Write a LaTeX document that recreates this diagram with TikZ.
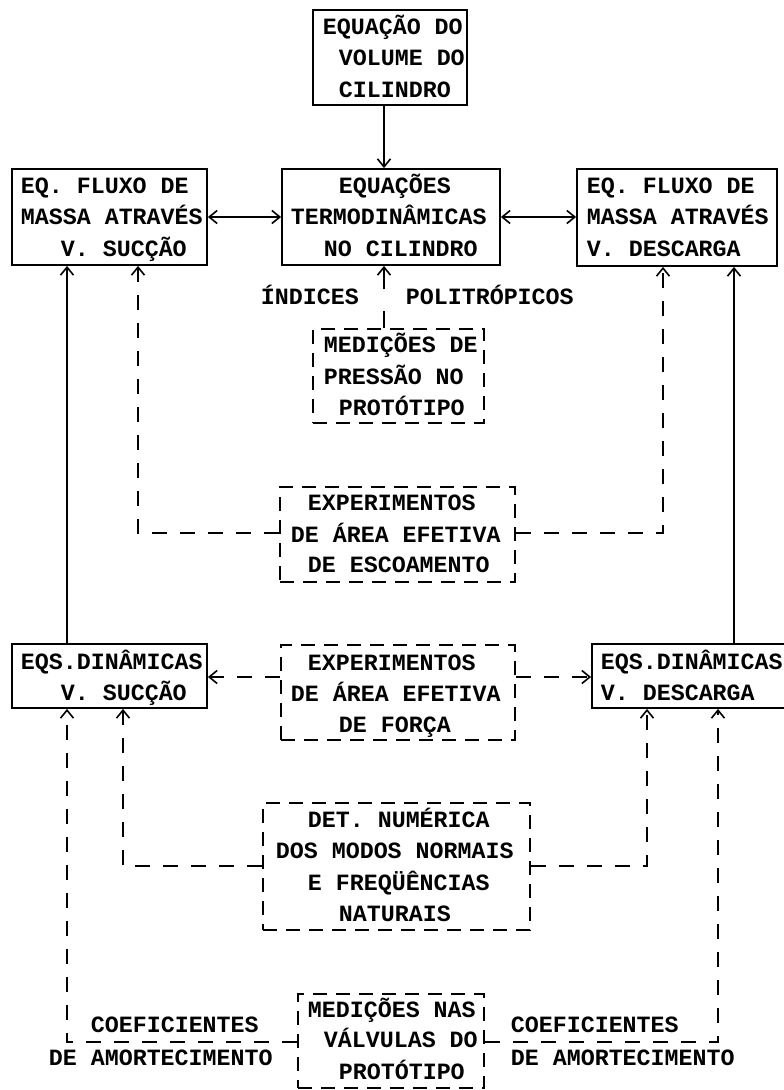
\documentclass[tikz,border=0pt]{standalone}
\usepackage{fontspec}
\setmainfont{Liberation Mono}
\usetikzlibrary{arrows.meta}
\begin{document}
\begin{tikzpicture}[x=1pt,y=-1pt, line width=1.8pt,
  box/.style={draw, line width=1.8pt, inner sep=0pt},
  dbox/.style={box, dash pattern=on 14pt off 9pt},
  txt/.style={anchor=base west, inner sep=0pt, font=\fontsize{23.3}{28}\selectfont\bfseries},
  arr/.style={-{Straight Barb[length=8pt,width=13pt,line width=1.6pt]}},
  darr/.style={{Straight Barb[length=8pt,width=13pt,line width=1.6pt]}-{Straight Barb[length=8pt,width=13pt,line width=1.6pt]}},
  dl/.style={arr, dash pattern=on 15pt off 13pt}]
\useasboundingbox (0,0) rectangle (784,1090);
\clip (0,0) rectangle (784,1090);

% boxes
\node[box,  minimum width=154pt, minimum height=95pt]  (top)   at (390,57.5)   {};
\node[box,  minimum width=195pt, minimum height=96pt]  (fluxS) at (109.5,217)  {};
\node[box,  minimum width=218pt, minimum height=96pt]  (cyl)   at (391,217)    {};
\node[box,  minimum width=200pt, minimum height=97pt]  (fluxD) at (677,217.5)  {};
\node[dbox, minimum width=171pt, minimum height=94pt]  (medP)  at (398.5,376)  {};
\node[dbox, minimum width=235pt, minimum height=95pt]  (esc)   at (397.5,534.5){};
\node[box,  minimum width=195pt, minimum height=64pt]  (dinS)  at (109.5,676)  {};
\node[dbox, minimum width=234pt, minimum height=95pt]  (forca) at (398,692.5)  {};
\node[box,  minimum width=198pt, minimum height=64pt]  (dinD)  at (691,676)    {};
\node[dbox, minimum width=267pt, minimum height=127pt] (det)   at (396.5,866.5){};
\node[dbox, minimum width=186pt, minimum height=94pt]  (medN)  at (391,1041)   {};

% box texts
\node[txt] (top1) at (322,34)  {EQUAÇÃO DO};
\node[txt] (top2) at (338,65)  {VOLUME DO};
\node[txt] (top3) at (338,97)  {CILINDRO};

\node[txt] (fs1) at (20,193) {EQ. FLUXO DE};
\node[txt] (fs2) at (20,224) {MASSA ATRAVÉS};
\node[txt] (fs3) at (60,256) {V. SUCÇÃO};

\node[txt] (cy1) at (338,193) {EQUAÇÕES};
\node[txt] (cy2) at (290,224) {TERMODINÂMICAS};
\node[txt] (cy3) at (323,256) {NO CILINDRO};

\node[txt] (fd1) at (586,193) {EQ. FLUXO DE};
\node[txt] (fd2) at (586,224) {MASSA ATRAVÉS};
\node[txt] (fd3) at (586,256) {V. DESCARGA};

\node[txt] (ind1) at (260,304) {ÍNDICES};
\node[txt] (ind2) at (405,304) {POLITRÓPICOS};

\node[txt] (mp1) at (323,352) {MEDIÇÕES DE};
\node[txt] (mp2) at (323,384) {PRESSÃO NO};
\node[txt] (mp3) at (338,415) {PROTÓTIPO};

\node[txt] (es1) at (307,510) {EXPERIMENTOS};
\node[txt] (es2) at (290,542) {DE ÁREA EFETIVA};
\node[txt] (es3) at (307,572) {DE ESCOAMENTO};

\node[txt] (ds1) at (20,669) {EQS.DINÂMICAS};
\node[txt] (ds2) at (60,700) {V. SUCÇÃO};

\node[txt] (fo1) at (307,670) {EXPERIMENTOS};
\node[txt] (fo2) at (290,701) {DE ÁREA EFETIVA};
\node[txt] (fo3) at (338,732) {DE FORÇA};

\node[txt] (dd1) at (600,669) {EQS.DINÂMICAS};
\node[txt] (dd2) at (600,700) {V. DESCARGA};

\node[txt] (de1) at (307,827) {DET. NUMÉRICA};
\node[txt] (de2) at (275,858) {DOS MODOS NORMAIS};
\node[txt] (de3) at (307,890) {E FREQÜÊNCIAS};
\node[txt] (de4) at (338,921) {NATURAIS};

\node[txt] (mn1) at (307,1017) {MEDIÇÕES NAS};
\node[txt] (mn2) at (323,1047) {VÁLVULAS DO};
\node[txt] (mn3) at (338,1079) {PROTÓTIPO};

\node[txt] (cl1) at (90,1032) {COEFICIENTES};
\node[txt] (cl2) at (48,1065) {DE AMORTECIMENTO};
\node[txt] (cr1) at (510,1032) {COEFICIENTES};
\node[txt] (cr2) at (510,1065) {DE AMORTECIMENTO};

% solid connectors
\draw[arr]  (top.south -| 384,0) -- (cyl.north -| 384,0);
\draw[darr] (fluxS.east) -- (cyl.west);
\draw[darr] (cyl.east) -- (fluxD.west |- cyl.east);
\draw[arr]  (dinS.north -| 67,0) -- (fluxS.south -| 67,0);
\draw[arr]  (dinD.north -| 734,0) -- (fluxD.south -| 734,0);

% dashed connectors
\draw[arr, dash pattern=on 17pt off 22pt on 30pt] (medP.north -| 384,0) -- (cyl.south -| 384,0);
\draw[dl] (esc.west |- 0,533) -| (fluxS.south -| 138,0);
\draw[dl] (esc.east |- 0,533) -| (fluxD.south -| 663,0);
\draw[dl] (forca.west |- 0,677) -- (dinS.east |- 0,677);
\draw[dl] (forca.east |- 0,677) -- (dinD.west |- 0,677);
\draw[dl] (det.west |- 0,866) -| (dinS.south -| 123,0);
\draw[dl] (det.east |- 0,866) -| (dinD.south -| 647,0);
\draw[dl] (medN.west |- 0,1042) -| (dinS.south -| 67,0);
\draw[dl] (medN.east |- 0,1042) -| (dinD.south -| 718,0);
\end{tikzpicture}
\end{document}
